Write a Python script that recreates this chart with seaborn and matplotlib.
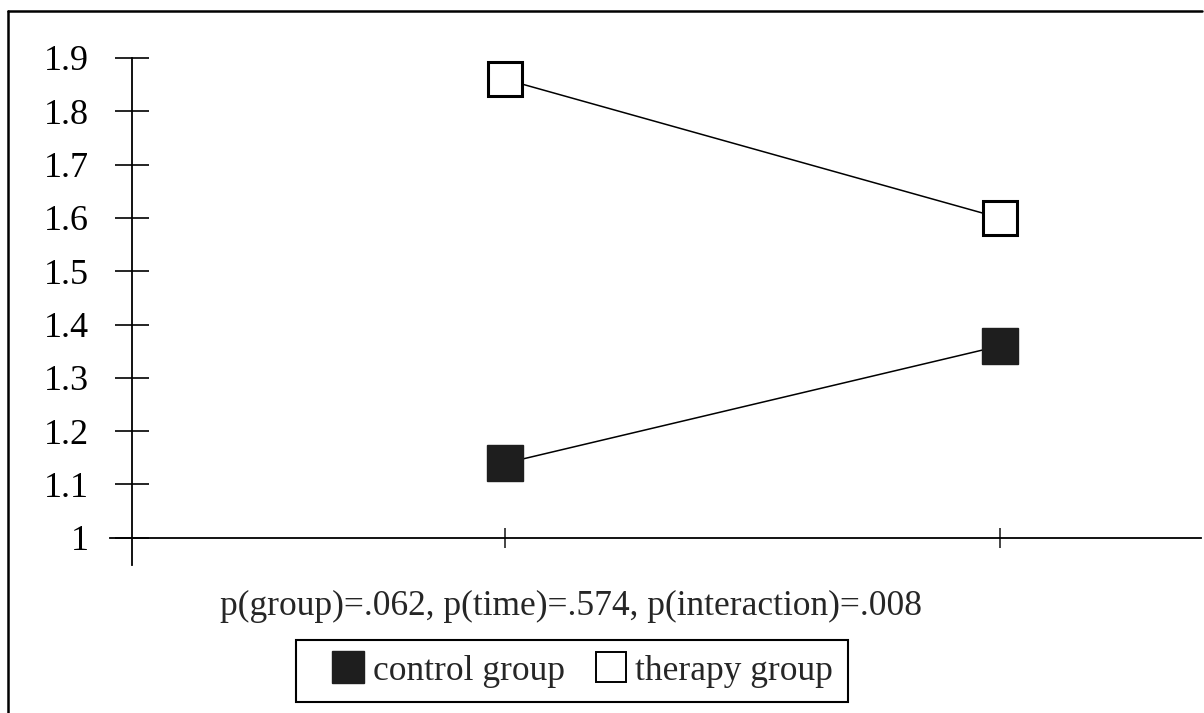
import matplotlib
matplotlib.use("Agg")
import matplotlib.pyplot as plt
from matplotlib.lines import Line2D
import seaborn as sns
import pandas as pd

# values
time_points = [0, 1]
control_group = [1.14, 1.36]
therapy_group = [1.86, 1.60]
y_ticks = [1.0, 1.1, 1.2, 1.3, 1.4, 1.5, 1.6, 1.7, 1.8, 1.9]
y_tick_labels = ['1', '1.1', '1.2', '1.3', '1.4', '1.5', '1.6', '1.7', '1.8', '1.9']
group_names = ['control group', 'therapy group']
note = 'p(group)=.062, p(time)=.574, p(interaction)=.008'

df = pd.DataFrame({
    'time': time_points * 2,
    'value': control_group + therapy_group,
    'group': [group_names[0]] * 2 + [group_names[1]] * 2,
})

sns.set_style('white')
plt.rcParams['font.family'] = ['Liberation Serif', 'DejaVu Serif']

W, H = 1204, 713
fig = plt.figure(figsize=(W / 100, H / 100), dpi=100)
# axes box in pixels: x 110..1201, y (from top) 58..565
ax = fig.add_axes([110 / W, (H - 565) / H, (1201 - 110) / W, (565 - 58) / H])

dark = '#1e1e1e'
sub = df[df.group == group_names[0]]
sns.lineplot(data=sub, x='time', y='value', ax=ax, color='black', linewidth=1.1,
             marker='s', markersize=26, markerfacecolor=dark, markeredgecolor=dark,
             markeredgewidth=1, clip_on=False)
sub = df[df.group == group_names[1]]
sns.lineplot(data=sub, x='time', y='value', ax=ax, color='black', linewidth=1.1,
             marker='s', markersize=24, markerfacecolor='white', markeredgecolor='black',
             markeredgewidth=2.2, clip_on=False)

ax.set_xlim(-0.798, 1.406)
ax.set_ylim(0.949, 1.9)

for s in ['top', 'right']:
    ax.spines[s].set_visible(False)
ax.spines['left'].set_position(('data', -0.7535))
ax.spines['bottom'].set_position(('data', 1.0))
for s in ['left', 'bottom']:
    ax.spines[s].set_color('black')
    ax.spines[s].set_linewidth(1.3)

ax.set_yticks(y_ticks)
ax.set_yticklabels(y_tick_labels)
ax.set_xticks(time_points)
ax.set_xticklabels(['', ''])
ax.tick_params(axis='y', direction='inout', length=24, width=1.2, pad=19,
               labelsize=26, colors='black', left=True)
ax.tick_params(axis='x', direction='inout', length=14, width=1.2, bottom=True)
ax.set_xlabel('')
ax.set_ylabel('')
ax.grid(False)

fig.text(571 / W, 1 - 606 / H, note, ha='center', va='center', fontsize=25.5)

handles = [
    Line2D([], [], linestyle='', marker='s', markersize=23, markerfacecolor=dark,
           markeredgecolor=dark),
    Line2D([], [], linestyle='', marker='s', markersize=22, markerfacecolor='white',
           markeredgecolor='black', markeredgewidth=1.4),
]
leg = fig.legend(handles, group_names, loc='center', bbox_to_anchor=(572 / W, 1 - 671 / H),
                 ncol=2, fontsize=25.5, frameon=True, fancybox=False, shadow=False,
                 framealpha=1, handlelength=2.1, handletextpad=-0.35, columnspacing=0.25,
                 borderpad=0.4, borderaxespad=0)
leg.get_frame().set_edgecolor('black')
leg.get_frame().set_linewidth(1.5)

# outer frame (left and top only, the scan is cut on the other sides)
fig.add_artist(Line2D([8 / W, 1202 / W], [1 - 11 / H, 1 - 11 / H], color='black', linewidth=1.8))
fig.add_artist(Line2D([8 / W, 8 / W], [1 - 11 / H, 0], color='black', linewidth=1.8))

fig.savefig('out.png', dpi=100)
